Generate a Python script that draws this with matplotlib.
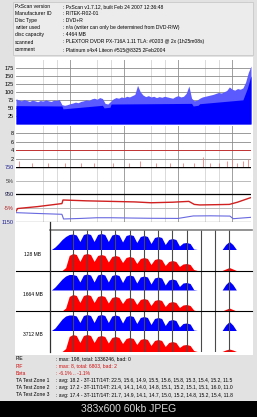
import numpy as np
import matplotlib.pyplot as plt
from matplotlib.lines import Line2D
from matplotlib.patches import Rectangle

W, H = 257, 417
plt.rcParams['font.family'] = ['Liberation Sans', 'DejaVu Sans']

header_labels = ["PxScan version", "Manufacturer ID", "Disc Type", "writer used",
                 "disc capacity", "scanned", "comment"]
header_values = [": PxScan v1.7.12, built Feb 24 2007 12:36:48",
                 ": RITEK-R02-01",
                 ": DVD+R",
                 ": n/a (writer can only be determined from DVD-R/W)",
                 ": 4464 MB",
                 ": PLEXTOR DVDR PX-716A 1.11 TLA: #0203 @ 2x (1h25m08s)",
                 ": Platinum x4x4 Liteon #515@8325 2Feb2004"]

stats_labels = ["PiE", "PiF", "Beta", "TA Test Zone 1", "TA Test Zone 2", "TA Test Zone 3"]
stats_values = [": max: 198, total: 1336246, bad: 0",
                ": max: 8, total: 6803, bad: 2",
                ": -6.1% .. -1.1%",
                ": avg: 18.2 - 3T-11T/14T: 22.5, 15.6, 14.9, 15.5, 15.6, 15.8, 15.3, 15.4, 15.2, 11.5",
                ": avg: 17.2 - 3T-11T/14T: 21.4, 14.1, 14.0, 14.8, 15.1, 15.2, 15.1, 15.1, 16.0, 11.0",
                ": avg: 17.4 - 3T-11T/14T: 21.7, 14.9, 14.1, 14.7, 15.0, 15.2, 14.8, 15.2, 15.4, 11.8"]
stats_colors = ["black", "#d01010", "#d01010", "black", "black", "black"]

# PIE, top of the noisy band every 0.05 GB
pie_top = [78, 75, 72, 76, 73, 70, 74, 72, 69, 73, 71, 75, 72, 70, 74, 73, 76,
           60, 58, 60, 63, 65, 68, 66, 70, 72, 75, 73, 78, 80, 77, 82, 79,
           64, 62, 70,
           78, 82, 80, 84, 82, 86, 84, 88, 92, 120, 100, 90, 85, 88, 84, 86, 82,
           85, 83, 86, 84, 82, 80, 85, 88, 84, 86, 95, 118, 80, 72, 74, 80, 84,
           86, 88, 90, 92, 95, 98, 96, 100, 104, 115, 108, 105, 110, 108, 112,
           130, 160, 180]
pie_gb = np.arange(len(pie_top)) * 0.05
# PIE, solid lower part
pie_base_gb = [0, 0.85, 0.87, 1.60, 1.63, 1.74, 1.76, 3.25, 3.28, 3.37, 3.40, 4.20, 4.28, 4.35]
pie_base = [57, 56, 47, 58, 50, 52, 62, 64, 56, 58, 63, 75, 110, 150]

# PIF
pif_gb = [0.05, 0.3, 0.6, 0.9, 1.2, 1.45, 1.8, 2.1, 2.3, 2.6, 2.85, 3.1, 3.3, 3.47,
          3.6, 3.75, 3.9, 4.0, 4.1, 4.2, 4.3]
pif_val = [1.5, 1, 1, 1, 1, 1, 1, 1, 1.5, 1, 1, 1, 1, 2.5, 1, 1, 1.5, 2, 1, 1.5, 2]

# jitter (750..1150 scale) and beta (%)
jit_gb = [0, 0.4, 0.85, 0.88, 1.2, 1.5, 1.75, 2.1, 2.5, 3.0, 3.28, 3.6, 3.96, 4.02, 4.35]
jit_val = [1082, 1088, 1094, 1128, 1124, 1119, 1119, 1121, 1123, 1124, 1106, 1105, 1107, 1126, 1116]
beta_gb = [0, 0.03, 0.4, 0.85, 0.87, 1.3, 1.75, 2.2, 2.5, 2.9, 3.2, 3.3, 3.4, 3.7, 3.95, 4.1, 4.35]
beta_val = [-6.1, -5.1, -4.4, -3.3, -2.0, -2.3, -2.5, -2.7, -3.0, -2.8, -2.5, -3.6, -3.8, -3.7, -3.6, -2.8, -1.1]

# TA histograms, every 0.25 T from 1.5 T to 11.75 T, plus the 14T peak
ta_names = ["128 MB", "1664 MB", "3712 MB"]
ta_blue = [
    [0, 2.5, 6, 10, 13, 15, 15.5, 14.5, 8, 15, 16, 15, 8, 15, 16, 15, 8, 14.5, 15.5, 14.5, 7.5,
     14, 15, 14, 7, 13, 14, 13, 6, 12, 13, 12, 5, 10, 11, 10, 3.5, 6.5, 7, 6, 0.5, 0],
    [0, 3, 7, 11, 14, 15.5, 15.5, 14.5, 8, 15, 16, 15, 8, 15, 16, 15, 8, 14.5, 15.5, 14.5, 7.5,
     14, 15, 14, 7, 13, 14, 13, 6, 12, 13, 12, 5, 10, 11, 10, 3.5, 7, 7.5, 6.5, 0.5, 0],
    [0, 2.5, 7, 11.5, 14.5, 15.5, 15.5, 14.5, 8, 15, 16, 15, 8, 15, 16, 15, 8, 14.5, 15.5, 14.5, 7.5,
     14, 15, 14, 7, 13, 14, 13, 6, 12, 13, 12, 5, 10, 11, 10, 3.5, 7, 7.5, 6.5, 0.5, 0],
]
ta_red = [
    [0, 0, 0, 0, 3, 15, 17, 16, 9, 16, 17, 16, 9, 15, 16, 15, 8.5, 14, 15, 14, 8,
     13, 14, 13, 7, 12, 13, 12, 6, 11, 12, 11, 5, 9, 10, 9, 4, 6.5, 7, 6, 1, 0],
    [0, 0, 0, 0, 3, 14.5, 16.5, 15.5, 8.5, 15.5, 16.5, 15.5, 8.5, 14.5, 15.5, 14.5, 8, 13.5, 14.5, 13.5, 7.5,
     12.5, 13.5, 12.5, 6.5, 11.5, 12.5, 11.5, 5.5, 10.5, 11.5, 10.5, 4.5, 8.5, 9.5, 8.5, 3.5, 6, 6.5, 5.5, 1, 0],
    [0, 0, 0, 0, 3, 15, 17, 16, 9, 16, 17, 16, 9, 15, 16, 15, 8.5, 14, 15, 14, 8,
     13, 14, 13, 7, 12, 13, 12, 6, 11, 12, 11, 5, 9, 10, 9, 4, 6.5, 7, 6, 1, 0],
]
ta_t = 1.5 + np.arange(len(ta_blue[0])) * 0.25
t14 = [13.5, 13.75, 14.0, 14.25, 14.5]
blue14 = [[0, 5, 8, 5, 0], [0, 5.5, 9, 5.5, 0], [0, 5.5, 9, 5.5, 0]]
red14 = [[0, 1.5, 3, 1.5, 0], [0, 1.5, 3, 1.5, 0], [0, 1.5, 2.5, 1.5, 0]]


fig = plt.figure(figsize=(W / 100, H / 100), dpi=100)
fig.patch.set_facecolor('#e2e2e2')


def px_axes(x0, y0, x1, y1):
    a = fig.add_axes([x0 / W, 1 - y1 / H, (x1 - x0) / W, (y1 - y0) / H])
    a.set_facecolor('white')
    return a


def fig_line(x0, y0, x1, y1, color, lw):
    fig.add_artist(Line2D([x0 / W, x1 / W], [1 - y0 / H, 1 - y1 / H], color=color, lw=lw, zorder=5))


def fig_text(x, y, s, **kw):
    fig.text(x / W, 1 - y / H, s, va='center', **kw)


# panels
fig.add_artist(Rectangle((13 / W, 1 - 55 / H), 240 / W, 53 / H, transform=fig.transFigure,
                         facecolor='#ececec', edgecolor='#c8c8c8', lw=0.6, zorder=-2))
fig.add_artist(Rectangle((15 / W, 1 - 355 / H), 238 / W, 298 / H, transform=fig.transFigure,
                         facecolor='white', edgecolor='none', zorder=-2))
fig.add_artist(Rectangle((0, 0), 1, 16 / H, transform=fig.transFigure,
                         facecolor='black', edgecolor='none', zorder=-2))
fig_text(128.5, 409, "383x600 60kb JPEG", ha='center', color='#d8d8d8', fontsize=7.5)

header_y = [6.5, 13.5, 20.5, 27.5, 34.5, 42, 49.5]
for y, lab, val in zip(header_y, header_labels, header_values):
    fig_text(15, y, lab, fontsize=3.6, color='black')
    fig_text(63, y, val, fontsize=3.6, color='black')

stats_y = [359, 366, 373.5, 380.5, 387.5, 395]
for y, lab, val, c in zip(stats_y, stats_labels, stats_values, stats_colors):
    fig_text(16, y, lab, fontsize=3.6, color=c)
    fig_text(56, y, val, fontsize=3.6, color=c)


def gb_grid(ax):
    ax.set_xlim(0, 4.35)
    for g in [0.5, 0.75, 1.5, 1.75, 2.5, 2.75, 3.5, 3.75]:
        ax.axvline(g, color='#d4d4d4', lw=0.6, zorder=0)
    for g in [1, 2, 3, 4]:
        ax.axvline(g, color='#a0a0a0', lw=0.7, zorder=0)
    ax.set_xticks([])
    for s in ax.spines.values():
        s.set_visible(False)
    ax.tick_params(axis='y', length=0, pad=1.5, labelsize=4)


# PIE
ax = px_axes(16, 59.6, 251, 124)
gb_grid(ax)
ax.set_ylim(0, 200)
for v in [25, 50, 75, 100, 125, 150, 175]:
    ax.axhline(v, color='#8a8a8a', lw=0.6, zorder=0)
ax.fill_between(pie_gb, pie_top, color='#5a5aff', lw=0, zorder=1)
ax.fill_between(pie_base_gb, pie_base, color='#0000ff', lw=0, zorder=2)
ax.axhline(0, color='black', lw=0.8)
ax.set_yticks([25, 50, 75, 100, 125, 150, 175])

# PIF
ax = px_axes(16, 126.4, 251, 167.5)
gb_grid(ax)
ax.set_ylim(0, 9.5)
for v in [2, 6, 8]:
    ax.axhline(v, color='#8a8a8a', lw=0.6, zorder=0)
ax.axhline(4, color='#c03030', lw=0.7, zorder=1)
ax.vlines(pif_gb, 0, pif_val, color='#f08080', lw=0.6, zorder=2)
ax.set_yticks([2, 4, 6, 8])

# jitter / beta
ax = px_axes(16, 167, 251, 222)
gb_grid(ax)
ax.set_ylim(1150, 750)
ax.axhline(750, color='black', lw=1.0)
ax.axhline(950, color='black', lw=0.9)
ax.axhline(850, color='#b0b0b0', lw=0.6, zorder=0)
ax.axhline(1050, color='#b0b0b0', lw=0.6, zorder=0)
ax.axhline(1150, color='#707070', lw=0.9)
ax.plot(jit_gb, jit_val, color='#6868e0', lw=0.8)
ax.set_yticks([750, 850, 950, 1050, 1150])
ax.set_yticklabels(["750", "5%", "950", "-5%", "1150"])
for lab, c in zip(ax.get_yticklabels(), ['#202090', '#404040', '#101040', '#b02020', '#202090']):
    lab.set_color(c)
bx = ax.twinx()
bx.set_ylim(-10, 10)
bx.set_xlim(0, 4.35)
bx.axis('off')
bx.plot(beta_gb, beta_val, color='#d02020', lw=1.0)

# TA
row_h = 40.5
for k in range(3):
    top = 230 + k * row_h
    for y0, y1, vals, v14, col in [(top, top + 19.5, ta_blue[k], blue14[k], '#0000ff'),
                                   (top + 19.5, top + row_h, ta_red[k], red14[k], '#ff0000')]:
        ax = px_axes(50, y0, 252, y1)
        ax.set_xlim(1.4, 15.6)
        ax.set_ylim(0, y1 - y0)
        ax.fill_between(ta_t, vals, color=col, lw=0, zorder=1)
        ax.fill_between(t14, v14, color=col, lw=0, zorder=1)
        for t in range(3, 15):
            ax.axvline(t, color='#4a4a4a', lw=0.8, zorder=3)
        ax.axis('off')
    fig_text(33, top + 24, ta_names[k], ha='center', fontsize=3.6, color='black')

fig_line(50, 229.7, 252, 229.7, '#808080', 1.2)
for y in [270.5, 311]:
    fig_line(16, y, 252, y, 'black', 0.8)
fig_line(50, 222, 50, 352, '#303030', 0.9)

fig.savefig("out.png", dpi=100, facecolor=fig.get_facecolor())
